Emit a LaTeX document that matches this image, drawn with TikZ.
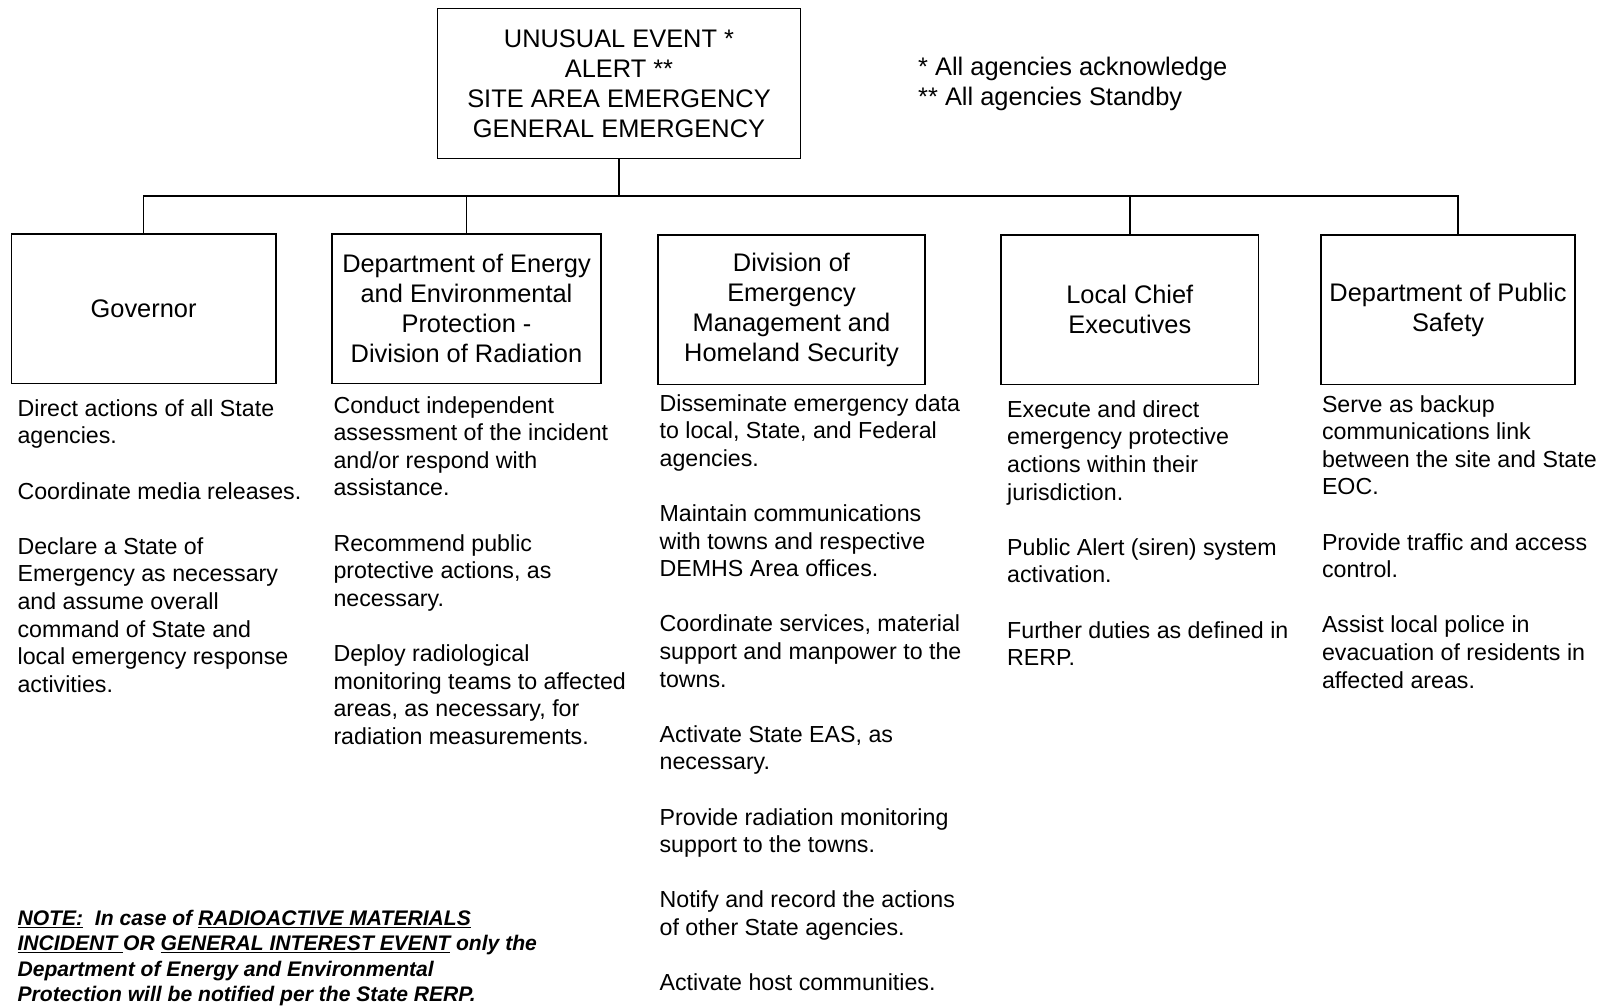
\documentclass[tikz,border=0pt]{standalone}
\usepackage{fontspec}
\setmainfont{Liberation Sans}
\begin{document}
\begin{tikzpicture}[x=1pt,y=-1pt,
  box/.style={draw, line width=1.4pt, inner sep=0pt, align=center,
    font=\fontsize{25.4}{30}\selectfont},
  body/.style={anchor=north west, inner sep=0pt, align=left,
    font=\fontsize{23.2}{27.6}\selectfont},
  conn/.style={line width=1.5pt}]
\useasboundingbox (0,0) rectangle (1603,1005);

% header box
\node[box, minimum width=363pt, minimum height=150.3pt] (top) at (619,83.4)
  {UNUSUAL EVENT *\\ALERT **\\SITE AREA EMERGENCY\\GENERAL EMERGENCY};

\node[anchor=north west, inner sep=0pt, align=left,
  font=\fontsize{25.4}{30}\selectfont] (legend) at (918,54.5)
  {\strut* All agencies acknowledge\\** All agencies Standby};

% agency boxes
\node[box, minimum width=264.8pt, minimum height=149.4pt] (gov) at (143.6,308.7) {Governor};
\node[box, minimum width=269pt, minimum height=149.4pt] (deep) at (466.5,308.7)
  {Department of Energy\\and Environmental\\Protection -\\Division of Radiation};
\node[box, minimum width=267pt, minimum height=149.4pt] (demhs) at (791.5,309.7)
  {Division of\\Emergency\\Management and\\Homeland Security};
\node[box, minimum width=257.5pt, minimum height=149.4pt] (lce) at (1129.8,309.7)
  {Local Chief\\Executives};
\node[box, minimum width=254pt, minimum height=149.4pt] (dps) at (1448,309.7)
  {Department of Public\\Safety};

% connectors
\coordinate (jG) at (143.6,196);
\coordinate (jD) at (466.5,196);
\coordinate (jL) at (1129.8,196);
\coordinate (jP) at (1457.8,196);
\draw[conn] (top.south) -- (top.south |- jG);
\draw[conn] (gov.north) -- (jG) -- (jP) -- (jP |- dps.north);
\draw[conn] (jD) -- (deep.north);
\draw[conn] (jL) -- (lce.north);

% duties
\node[body] (tgov) at (17.4,396.7)
  {\strut Direct actions of all State\\agencies.\\[27.6pt]Coordinate media releases.\\[27.6pt]Declare a State of\\Emergency as necessary\\and assume overall\\command of State and\\local emergency response\\activities.};
\node[body] (tdeep) at (333.3,393.6)
  {\strut Conduct independent\\assessment of the incident\\and/or respond with\\assistance.\\[27.6pt]Recommend public\\protective actions, as\\necessary.\\[27.6pt]Deploy radiological\\monitoring teams to affected\\areas, as necessary, for\\radiation measurements.};
\node[body] (tdemhs) at (659.4,391.5)
  {\strut Disseminate emergency data\\to local, State, and Federal\\agencies.\\[27.6pt]Maintain communications\\with towns and respective\\DEMHS Area offices.\\[27.6pt]Coordinate services, material\\support and manpower to the\\towns.\\[27.6pt]Activate State EAS, as\\necessary.\\[27.6pt]Provide radiation monitoring\\support to the towns.\\[27.6pt]Notify and record the actions\\of other State agencies.\\[27.6pt]Activate host communities.};
\node[body] (tlce) at (1007,397.7)
  {\strut Execute and direct\\emergency protective\\actions within their\\jurisdiction.\\[27.6pt]Public Alert (siren) system\\activation.\\[27.6pt]Further duties as defined in\\RERP.};
\node[body] (tdps) at (1321.8,392.5)
  {\strut Serve as backup\\communications link\\between the site and State\\EOC.\\[27.6pt]Provide traffic and access\\control.\\[27.6pt]Assist local police in\\evacuation of residents in\\affected areas.};

% note
\node[anchor=north west, inner sep=0pt, align=left,
  font=\fontsize{21.1}{25.2}\selectfont\bfseries\itshape] (note) at (17.4,907.9)
  {\strut\underline{NOTE:}\ \ In case of \underline{RADIOACTIVE MATERIALS}\\\underline{INCIDENT }OR \underline{GENERAL INTEREST EVENT} only the\\Department of Energy and Environmental\\Protection will be notified per the State RERP.};
\end{tikzpicture}
\end{document}
